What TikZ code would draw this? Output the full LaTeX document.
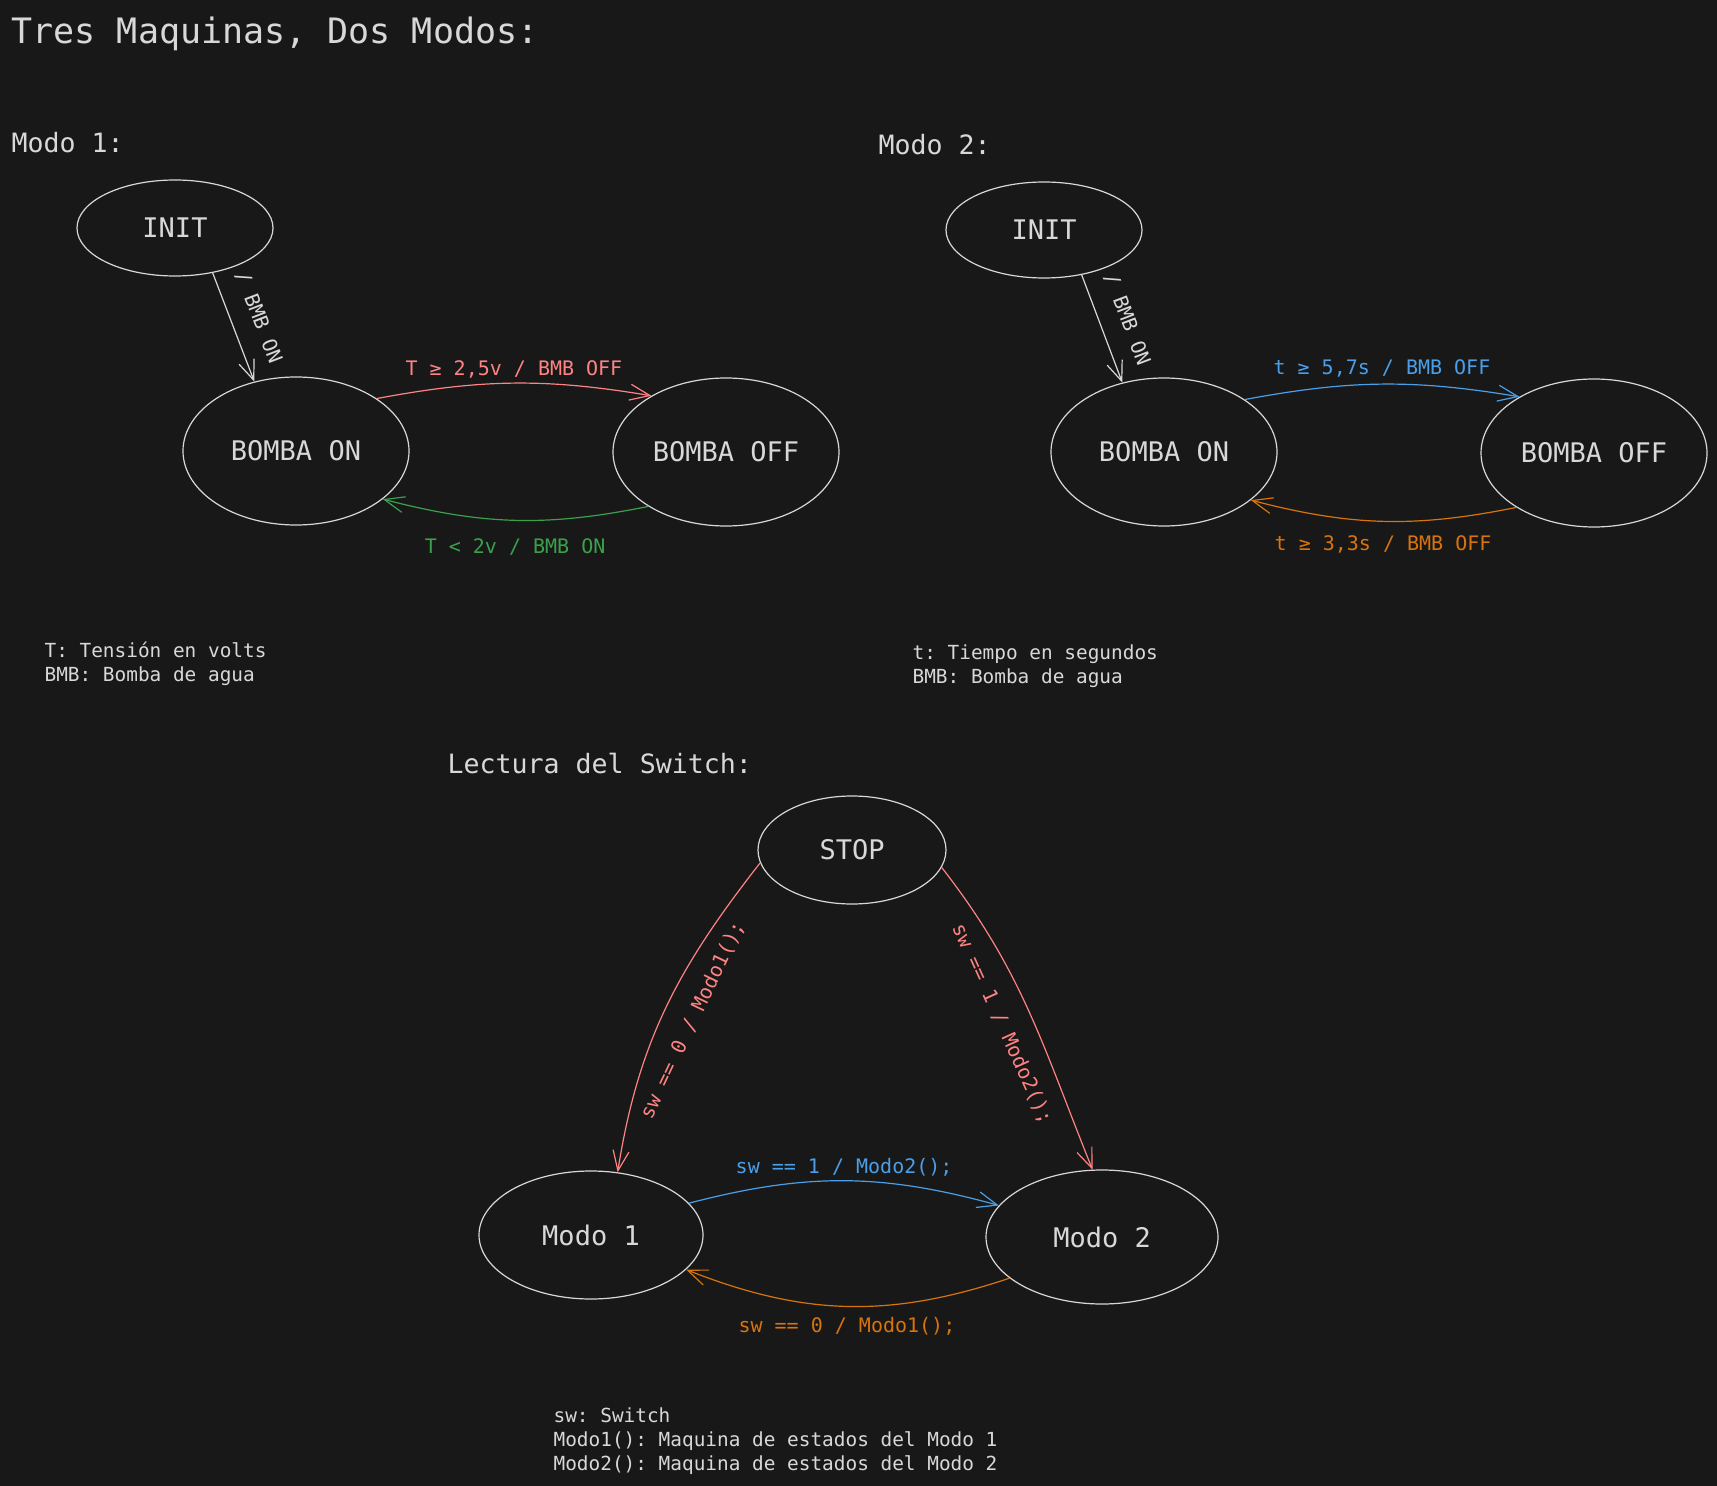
\documentclass[tikz,border=0pt]{standalone}
\usepackage{fontspec}
\setmainfont{DejaVu Sans Mono}
\usepackage{xcolor}
\usepackage{tikz}
\usetikzlibrary{shapes.geometric,arrows.meta,positioning}
\frenchspacing

\definecolor{bg}{HTML}{181818}
\definecolor{ink}{HTML}{D8D8D8}
\definecolor{redarr}{HTML}{FF8383}
\definecolor{greenarr}{HTML}{3AA04C}
\definecolor{bluearr}{HTML}{4A9FE8}
\definecolor{orangearr}{HTML}{D9730D}

\begin{document}
\begin{tikzpicture}[x=0.5pt, y=-0.5pt, line width=0.6pt,
  state/.style={draw=ink, ellipse, inner sep=0pt, text=ink,
                font=\fontsize{13.5}{16}\selectfont},
  ann/.style={font=\fontsize{10}{12}\selectfont, inner sep=2pt},
  note/.style={anchor=base west, inner sep=0pt, text=ink,
               font=\fontsize{9.7}{12}\selectfont},
  head/.style={anchor=base west, inner sep=0pt, text=ink,
               font=\fontsize{13.3}{16}\selectfont},
  >={Straight Barb[length=10pt,width=8pt]}
]
\fill[bg] (0,0) rectangle (1717,1486);

\node[head, font=\fontsize{17.5}{20}\selectfont] (title) at (11,44) {Tres Maquinas, Dos Modos:};

% Modo 1
\node[head] (h1) at (11,153) {Modo 1:};
\node[state, minimum width=98pt, minimum height=48pt]  (init1) at (175,228) {INIT};
\node[state, minimum width=113pt, minimum height=74pt] (on1)   at (296,451) {BOMBA ON};
\node[state, minimum width=113pt, minimum height=74pt] (off1)  at (726,452) {BOMBA OFF};

\draw[->, ink] (init1.-50) -- (on1.121) node[ann, midway, sloped, above=7pt] {/ BMB ON};
\draw[->, redarr] (on1.33) to[bend left=10] node[ann, above] {T ≥ 2,5v / BMB OFF} (off1.143);
\draw[->, greenarr] (off1.-145) to[bend left=13] node[ann, below=7pt] {T < 2v / BMB ON} (on1.-29);

\node[note] (n1a) at (44,657) {T: Tensión en volts};
\node[note] (n1b) at (44,681) {BMB: Bomba de agua};

% Modo 2
\node[head] (h2) at (878,155) {Modo 2:};
\node[state, minimum width=98pt, minimum height=48pt]  (init2) at (1044,230) {INIT};
\node[state, minimum width=113pt, minimum height=74pt] (on2)   at (1164,452) {BOMBA ON};
\node[state, minimum width=113pt, minimum height=74pt] (off2)  at (1594,453) {BOMBA OFF};

\draw[->, ink] (init2.-50) -- (on2.121) node[ann, midway, sloped, above=7pt] {/ BMB ON};
\draw[->, bluearr] (on2.33) to[bend left=10] node[ann, above=1pt] {t ≥ 5,7s / BMB OFF} (off2.143);
\draw[->, orangearr] (off2.-145) to[bend left=13] node[ann, below=5pt] {t ≥ 3,3s / BMB OFF} (on2.-29);

\node[note] (n2a) at (912,659) {t: Tiempo en segundos};
\node[note] (n2b) at (912,683) {BMB: Bomba de agua};

% Lectura del switch
\node[head] (h3) at (447,773) {Lectura del Switch:};
\node[state, minimum width=94pt, minimum height=54pt]  (stop) at (852,850)  {STOP};
\node[state, minimum width=112pt, minimum height=64pt] (m1)   at (591,1235) {Modo 1};
\node[state, minimum width=116pt, minimum height=67pt] (m2)   at (1102,1237) {Modo 2};

\draw[->, redarr] (stop.188) to[out=-128, in=81]
  node[ann, pos=0.5, sloped, below=8pt] {sw == 0 / Modo1();} (m1.67);
\draw[->, redarr] (stop.-11) to[out=-52, in=112]
  node[ann, pos=0.5, sloped, below=8pt] {sw == 1 / Modo2();} (m2.98);
\draw[->, bluearr] (m1.18) to[bend left=15] node[ann, above] {sw == 1 / Modo2();} (m2.163);
\draw[->, orangearr] (m2.-156) to[bend left=20] node[ann, below=3pt] {sw == 0 / Modo1();} (m1.-20);

\node[note] (n3a) at (553,1422) {sw: Switch};
\node[note] (n3b) at (553,1446) {Modo1(): Maquina de estados del Modo 1};
\node[note] (n3c) at (553,1470) {Modo2(): Maquina de estados del Modo 2};
\end{tikzpicture}
\end{document}
